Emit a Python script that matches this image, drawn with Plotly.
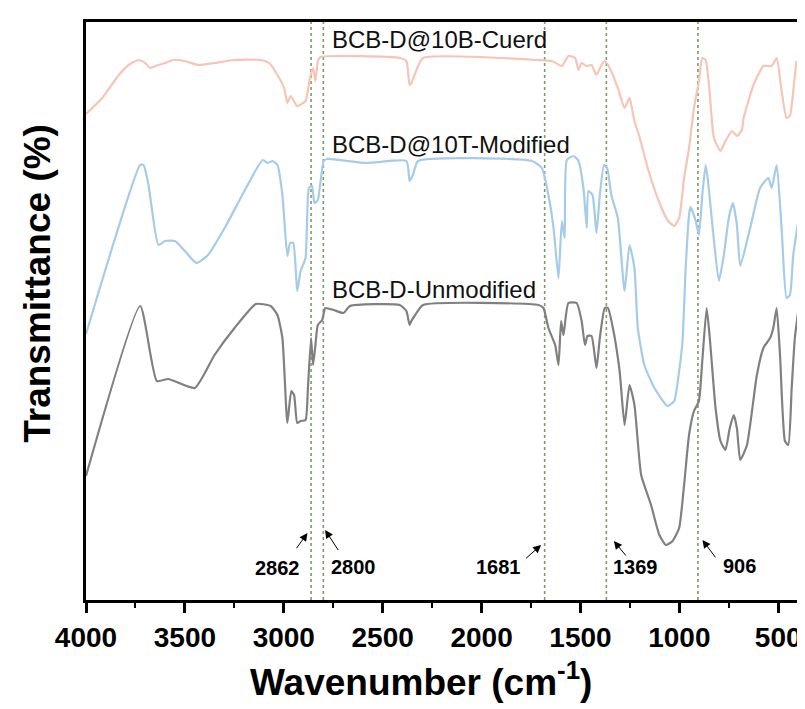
import plotly.graph_objects as go

# ---------------- data ----------------
wn_unmod = [4000, 3726, 3642, 3584, 3450, 3350, 3249, 3141, 3066, 3032, 3007, 2982, 2962, 2948,
            2932, 2915, 2890, 2878, 2862, 2852, 2840, 2828, 2806, 2790, 2748, 2698, 2665, 2414,
            2380, 2364, 2355, 2339, 2296, 1712, 1687, 1662, 1628, 1611, 1598, 1586, 1561, 1519,
            1494, 1477, 1464, 1444, 1419, 1402, 1377, 1361, 1336, 1302, 1277, 1252, 1227, 1193,
            1143, 1101, 1068, 1034, 1001, 976, 951, 926, 901, 884, 862, 846, 817, 792, 767, 745,
            725, 709, 692, 658, 608, 575, 541, 525, 508, 491, 466, 449, 432, 416, 400]
t_unmod = [25.8, 59.8, 44.8, 45.2, 43.4, 50.0, 55.4, 60.2, 59.8, 58.0, 53.4, 36.4, 42.8, 42.0,
           36.4, 36.8, 37.0, 43.4, 53.4, 48.0, 52.0, 56.0, 57.0, 59.4, 59.0, 58.4, 59.8, 60.0,
           58.8, 56.0, 56.8, 57.8, 60.0, 60.0, 59.4, 55.4, 52.0, 48.0, 56.8, 54.0, 60.4, 60.4,
           56.8, 52.0, 53.8, 53.8, 47.4, 53.4, 59.4, 59.4, 55.4, 46.8, 36.0, 44.0, 40.0, 26.0,
           20.0, 14.0, 12.0, 12.8, 15.4, 24.0, 34.0, 38.8, 40.8, 48.8, 59.4, 53.4, 39.4, 32.8, 31.0, 35.4,
           38.0, 35.4, 29.0, 32.0, 46.0, 51.4, 53.4, 55.4, 59.4, 50.0, 32.8, 32.0, 43.4, 53.4, 58.4]

wn_mod = [4000, 3726, 3709, 3684, 3634, 3600, 3550, 3500, 3442, 3383, 3299, 3199, 3107, 3082,
          3057, 3032, 3007, 2982, 2968, 2952, 2932, 2915, 2890, 2873, 2857, 2845, 2828, 2815,
          2798, 2781, 2581, 2380, 2364, 2355, 2347, 2321, 1745, 1695, 1662, 1636, 1611, 1594,
          1580, 1569, 1535, 1510, 1485, 1468, 1460, 1439, 1419, 1402, 1381, 1365, 1344, 1311,
          1277, 1252, 1227, 1210, 1177, 1126, 1060, 1026, 1001, 984, 968, 950, 943, 917, 901,
          884, 867, 855, 833, 800, 775, 750, 729, 709, 692, 642, 592, 550, 533, 508, 483, 458,
          441, 424, 400]
t_mod = [54.2, 88.0, 88.0, 84.0, 72.0, 72.8, 72.8, 70.8, 68.4, 70.0, 75.4, 82.8, 89.0, 88.4,
         88.8, 88.0, 82.0, 69.8, 72.4, 72.4, 62.8, 66.8, 69.4, 83.4, 83.8, 80.4, 81.0, 84.4,
         88.8, 89.2, 88.4, 88.8, 84.8, 85.4, 86.0, 88.8, 88.8, 87.4, 82.0, 75.4, 65.4, 76.8,
         73.4, 89.0, 89.8, 88.8, 83.4, 75.4, 82.8, 82.0, 74.4, 82.0, 88.0, 87.4, 82.0, 77.4,
         62.8, 72.0, 67.4, 55.4, 48.0, 43.4, 39.8, 40.8, 46.8, 52.8, 67.4, 78.4, 79.6, 76.8, 74.0,
         82.0, 88.0, 84.8, 76.0, 64.8, 70.0, 77.4, 80.4, 76.0, 67.8, 75.4, 83.4, 85.4, 83.4, 88.0,
         75.4, 61.4, 62.0, 70.0, 76.4]

wn_cured = [4000, 3918, 3834, 3784, 3734, 3701, 3676, 3650, 3600, 3559, 3500, 3433, 3350, 3249,
            3116, 3074, 3032, 2998, 2982, 2965, 2932, 2890, 2868, 2852, 2840, 2828, 2815, 2414,
            2380, 2364, 2355, 2339, 2296, 1712, 1645, 1594, 1561, 1527, 1510, 1494, 1469, 1444,
            1419, 1394, 1377, 1352, 1311, 1277, 1252, 1227, 1200, 1160, 1110, 1060, 1026, 1001,
            976, 951, 926, 901, 884, 867, 850, 825, 792, 767, 733, 709, 684, 675, 625, 575, 533,
            508, 483, 458, 441, 424, 408]
t_cured = [98.2, 101.4, 106.0, 108.0, 109.0, 108.4, 107.4, 107.8, 108.4, 109.0, 108.8, 108.0,
           108.4, 109.0, 109.0, 108.4, 106.0, 103.4, 100.4, 101.8, 99.8, 100.8, 105.4, 107.4,
           104.8, 108.8, 109.6, 109.4, 108.8, 104.0, 104.4, 106.0, 109.4, 109.0, 108.8, 107.8,
           109.8, 109.4, 107.0, 108.4, 107.8, 108.0, 106.0, 108.0, 108.8, 107.4, 103.4, 99.4,
           101.4, 96.8, 93.4, 87.4, 81.4, 77.0, 75.8, 77.4, 85.4, 91.4, 99.4, 104.8, 109.4, 109.0,
           104.0, 93.4, 90.8, 92.8, 94.8, 93.8, 95.0, 97.4, 104.0, 107.8, 107.8, 109.4, 102.8,
           97.4, 97.8, 102.8, 108.8]

series_names = ["BCB-D-Unmodified", "BCB-D@10T-Modified", "BCB-D@10B-Cuerd"]
series_colors = ["#808080", "#a6cbe9", "#f6c5b5"]

peaks = [2862, 2800, 1681, 1369, 906]
peak_labels = ["2862", "2800", "1681", "1369", "906"]

x_ticks = [4000, 3500, 3000, 2500, 2000, 1500, 1000, 500]

# ---------------- figure ----------------
fig = go.Figure()
for wn, t, name, col in zip([wn_unmod, wn_mod, wn_cured], [t_unmod, t_mod, t_cured],
                            series_names, series_colors):
    fig.add_trace(go.Scatter(x=wn, y=t, mode="lines", name=name,
                             line=dict(color=col, width=2.2, shape="spline", smoothing=0.5),
                             showlegend=False))

# dotted vertical lines at characteristic peaks
for p in peaks:
    fig.add_shape(type="line", xref="x", yref="paper", x0=p, x1=p, y0=0, y1=1,
                  line=dict(color="#7f9a68", width=1.6, dash="dot"), layer="below")

# curve labels
label_font = dict(family="Arial, Liberation Sans, sans-serif", size=24, color="#111111")
for txt, yv in zip(["BCB-D@10B-Cuerd", "BCB-D@10T-Modified", "BCB-D-Unmodified"],
                   [113.2, 92.2, 63.2]):
    fig.add_annotation(x=2766, y=yv, text=txt, showarrow=False, xanchor="left",
                       yanchor="middle", font=label_font)

# peak annotations: arrows + labels
arrow_tips = [(2880, 14.4), (2791, 15.0), (1699, 12.0), (1331, 12.8), (883, 13.0)]
arrow_offsets = [(-13, 18), (15, 23), (-17, 15), (14, 17), (15, 20)]
label_pos = [(3033, 7.4), (2645, 7.6), (1915, 7.6), (1220, 7.6), (696, 7.8)]
pk_font = dict(family="Arial, Liberation Sans, sans-serif", size=20, color="#000000", weight="bold")
for (tx, ty), (dx, dy), (lx, ly), lab in zip(arrow_tips, arrow_offsets, label_pos, peak_labels):
    fig.add_annotation(x=tx, y=ty, ax=dx, ay=dy, text=" ", showarrow=True,
                       font=dict(size=2), arrowhead=2, arrowsize=1.6, arrowwidth=1,
                       arrowcolor="#000000")
    fig.add_annotation(x=lx, y=ly, text=lab, showarrow=False, font=pk_font)

# axis titles as annotations
fig.add_annotation(xref="paper", yref="paper", x=0.47, y=-0.138, yanchor="middle",
                   text="Wavenumber (cm<sup>-1</sup>)", showarrow=False,
                   font=dict(family="Arial, Liberation Sans, sans-serif", size=37,
                             color="#000000", weight="bold"))
fig.add_annotation(xref="paper", yref="paper", x=-0.068, y=0.548, xanchor="center",
                   textangle=-90, text="Transmittance (%)", showarrow=False,
                   font=dict(family="Arial, Liberation Sans, sans-serif", size=37,
                             color="#000000", weight="bold"))

fig.update_layout(
    width=805, height=709,
    margin=dict(l=78, r=11, t=14, b=117),
    paper_bgcolor="white", plot_bgcolor="white",
    xaxis=dict(range=[4000, 395], tickvals=x_ticks, ticks="outside", ticklen=10,
               tickwidth=2.5, tickcolor="#000", showgrid=False, zeroline=False,
               showline=True, linewidth=3, linecolor="#000", mirror=True,
               tickfont=dict(family="Arial, Liberation Sans, sans-serif", size=28,
                             color="#000", weight="bold"),
               minor=dict(dtick=250, tick0=0, ticks="outside", ticklen=5, tickwidth=2,
                          tickcolor="#000", showgrid=False)),
    yaxis=dict(range=[1, 116.6], showticklabels=False, ticks="", showgrid=False,
               zeroline=False, showline=True, linewidth=3, linecolor="#000", mirror=True),
)

fig.write_html("out.html")
